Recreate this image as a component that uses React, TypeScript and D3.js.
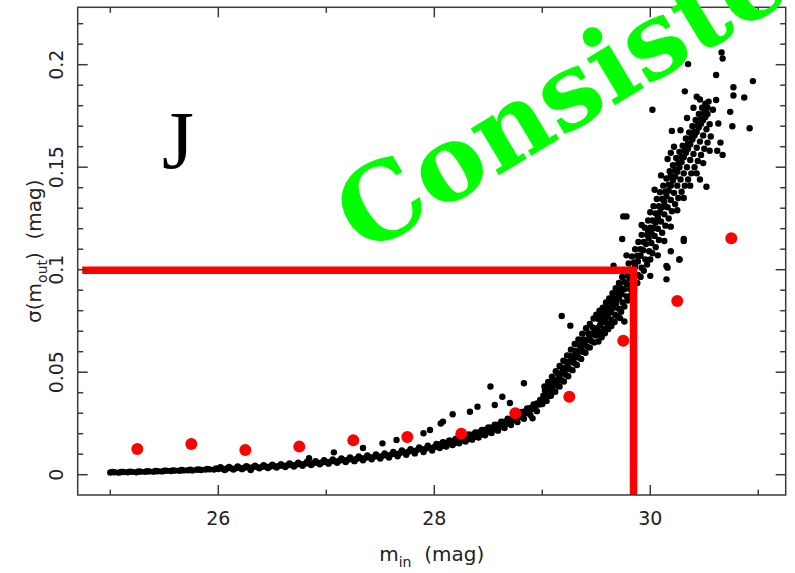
import React from "react";
import * as d3 from "d3";

// ---------- data ----------
const binMags = [25.25, 25.75, 26.25, 26.75, 27.25, 27.75, 28.25, 28.75, 29.25, 29.75, 30.25, 30.75];
const binSigma = [0.0125, 0.015, 0.0121, 0.0137, 0.0168, 0.0184, 0.02, 0.03, 0.038, 0.0654, 0.0847, 0.1153];

const xTicksMajor = [26, 28, 30];
const xTicksMinor = [25, 27, 29, 31];
const yTicksMajor = [0, 0.05, 0.1, 0.15, 0.2];
const yTickLabels = ["0", "0.05", "0.1", "0.15", "0.2"];
const yTicksMinor = [0.01, 0.02, 0.03, 0.04, 0.06, 0.07, 0.08, 0.09, 0.11, 0.12, 0.13, 0.14, 0.16, 0.17, 0.18, 0.19, 0.21, 0.22];

const limitMag = 29.845;
const limitSigma = 0.0997;

// bright end: tight band 25-28
const bandBright: [number, number][] = [
  [25.0, .0011], [25.04, .0012], [25.08, .0010], [25.12, .0013], [25.16, .0012], [25.2, .0014], [25.24, .0012], [25.28, .0015],
  [25.32, .0014], [25.36, .0016], [25.4, .0015], [25.44, .0017], [25.48, .0016], [25.52, .0019], [25.56, .0018], [25.6, .0020],
  [25.64, .0019], [25.68, .0021], [25.72, .0022], [25.76, .0021], [25.8, .0024], [25.84, .0023], [25.88, .0025], [25.92, .0026],
  [25.96, .0025], [26.0, .0028],
  [25.02, .0013], [25.1, .0014], [25.18, .0015], [25.26, .0016], [25.34, .0017], [25.42, .0018], [25.5, .0020], [25.58, .0021],
  [25.66, .0023], [25.74, .0024], [25.82, .0026], [25.9, .0028], [25.98, .0030],
  [26.04, .0029], [26.08, .0030], [26.12, .0031], [26.16, .0031], [26.2, .0033], [26.24, .0034], [26.28, .0035], [26.32, .0036],
  [26.36, .0037], [26.4, .0038], [26.44, .0039], [26.48, .0040], [26.52, .0041], [26.56, .0043], [26.6, .0044], [26.64, .0046],
  [26.68, .0047], [26.72, .0049], [26.76, .0051], [26.8, .0053], [26.84, .0055], [26.88, .0056], [26.92, .0058], [26.96, .0060],
  [27.0, .0062], [27.04, .0064], [27.08, .0066], [27.12, .0068], [27.16, .0071], [27.2, .0073], [27.24, .0075], [27.28, .0077],
  [27.32, .0080], [27.36, .0082], [27.4, .0085], [27.44, .0087], [27.48, .0089], [27.52, .0092], [27.56, .0095], [27.6, .0098],
  [27.64, .0101], [27.68, .0105], [27.72, .0109], [27.76, .0112], [27.8, .0116], [27.84, .0120], [27.88, .0124], [27.92, .0127],
  [27.96, .0131], [28.0, .0135],
  [26.02, .0036], [26.1, .0038], [26.18, .0040], [26.26, .0042], [26.34, .0044], [26.42, .0046], [26.5, .0049], [26.58, .0051],
  [26.66, .0055], [26.74, .0058], [26.82, .0062], [26.9, .0066], [26.98, .0071], [27.06, .0075], [27.14, .0079], [27.22, .0084],
  [27.3, .0089], [27.38, .0094], [27.46, .0099], [27.54, .0104], [27.62, .0111], [27.7, .0118], [27.78, .0125], [27.86, .0133], [27.94, .0141],
  [26.06, .0023], [26.14, .0025], [26.22, .0027], [26.3, .0029], [26.38, .0031], [26.46, .0033], [26.54, .0035], [26.62, .0037],
  [26.7, .0040], [26.78, .0044], [26.86, .0047], [26.94, .0051], [27.02, .0054], [27.1, .0058], [27.18, .0062], [27.26, .0066],
  [27.34, .0070], [27.42, .0075], [27.5, .0079], [27.58, .0084], [27.66, .0090], [27.74, .0097], [27.82, .0104], [27.9, .0111], [27.98, .0118],
];

// 28-29.5
const bandMid: [number, number][] = [
  [28.03, .0139], [28.06, .0143], [28.09, .0147], [28.12, .0151], [28.15, .0156], [28.18, .0160], [28.21, .0164], [28.24, .0169],
  [28.27, .0174], [28.3, .0179], [28.33, .0184], [28.36, .0189], [28.39, .0194], [28.42, .0200], [28.45, .0206], [28.48, .0212],
  [28.51, .0218], [28.54, .0224], [28.57, .0231], [28.6, .0238], [28.63, .0245], [28.66, .0252], [28.69, .0259], [28.72, .0266],
  [28.75, .0274], [28.78, .0283], [28.81, .0292], [28.84, .0301], [28.87, .0311], [28.9, .0321], [28.93, .0331], [28.96, .0342], [28.99, .0354],
  [28.02, .0150], [28.08, .0158], [28.14, .0167], [28.2, .0176], [28.26, .0185], [28.32, .0196], [28.38, .0206], [28.44, .0218],
  [28.5, .0231], [28.56, .0244], [28.62, .0259], [28.68, .0273], [28.74, .0290], [28.8, .0305], [28.86, .0323], [28.92, .0343], [28.98, .0365],
  [28.05, .0130], [28.11, .0137], [28.17, .0145], [28.23, .0153], [28.29, .0162], [28.35, .0171], [28.41, .0181], [28.47, .0192],
  [28.53, .0203], [28.59, .0215], [28.65, .0228], [28.71, .0242], [28.77, .0257], [28.83, .0273], [28.89, .0291], [28.95, .0310],
  [28.05, .0147], [28.11, .0156], [28.17, .0165], [28.23, .0174], [28.29, .0184], [28.35, .0195], [28.41, .0206], [28.47, .0218],
  [28.53, .0230], [28.59, .0244], [28.65, .0258], [28.71, .0273], [28.77, .0289], [28.83, .0307], [28.89, .0326], [28.95, .0347],
  [28.08, .0141], [28.14, .0149], [28.2, .0157], [28.26, .0166], [28.32, .0175], [28.38, .0185], [28.44, .0196], [28.5, .0208],
  [28.56, .0221], [28.62, .0235], [28.68, .0250], [28.74, .0266], [28.8, .0283], [28.86, .0302], [28.92, .0322], [28.98, .0344],
  [29.01, .0385], [29.035, .0400], [29.06, .0412], [29.085, .0430], [29.11, .0445], [29.135, .0462], [29.16, .0478], [29.185, .0500],
  [29.21, .0515], [29.235, .0530], [29.26, .0552], [29.285, .0568], [29.31, .0585], [29.335, .0600], [29.36, .0620], [29.385, .0638],
  [29.41, .0655], [29.435, .0668], [29.46, .0685], [29.485, .0700],
  [29.02, .0430], [29.055, .0452], [29.09, .0478], [29.125, .0505], [29.16, .0530], [29.195, .0556], [29.23, .0582], [29.265, .0610],
  [29.3, .0638], [29.335, .0660], [29.37, .0688], [29.405, .0715], [29.44, .0735], [29.475, .0762],
  [29.0, .0345], [29.04, .0360], [29.08, .0385], [29.12, .0405], [29.16, .0430], [29.2, .0455], [29.24, .0480], [29.28, .0510],
  [29.32, .0535], [29.36, .0565], [29.4, .0595], [29.44, .0620], [29.48, .0645],
  [29.025, .0412], [29.065, .0440], [29.105, .0465], [29.145, .0493], [29.185, .0522], [29.225, .0550], [29.265, .0578],
  [29.305, .0605], [29.345, .0632], [29.385, .0660], [29.425, .0690], [29.465, .0718],
  [29.015, .0365], [29.055, .0385], [29.095, .0410], [29.135, .0435], [29.175, .0460], [29.215, .0488], [29.255, .0515],
  [29.295, .0545], [29.335, .0572], [29.375, .0600], [29.415, .0625], [29.455, .0652], [29.495, .0680],
];

// 29.5-30.6
const bandFaint: [number, number][] = [
  [29.51, .0715], [29.535, .0730], [29.56, .0745], [29.585, .0762], [29.61, .0778], [29.635, .0795], [29.66, .0815], [29.685, .0838],
  [29.71, .0860], [29.735, .0880], [29.76, .0905], [29.785, .0930], [29.81, .0958], [29.835, .0985], [29.86, .1015], [29.885, .1040],
  [29.91, .1068], [29.935, .1095], [29.96, .1125], [29.985, .1155],
  [29.5, .0780], [29.53, .0800], [29.56, .0815], [29.59, .0840], [29.62, .0860], [29.65, .0885], [29.68, .0910], [29.71, .0935],
  [29.74, .0965], [29.77, .0995], [29.8, .1030], [29.83, .1065], [29.86, .1100], [29.89, .1135], [29.92, .1170], [29.95, .1205], [29.98, .1240],
  [29.52, .0650], [29.55, .0670], [29.58, .0690], [29.61, .0710], [29.64, .0725], [29.67, .0745], [29.7, .0770], [29.73, .0795],
  [29.76, .0820], [29.79, .0850], [29.82, .0875], [29.85, .0905], [29.88, .0935], [29.91, .0965], [29.94, .0995], [29.97, .1025], [30.0, .1050],
  [29.52, .0760], [29.55, .0775], [29.58, .0795], [29.61, .0815], [29.64, .0835], [29.67, .0860], [29.7, .0885], [29.73, .0910],
  [29.76, .0940], [29.79, .0970], [29.82, .1000], [29.85, .1035], [29.88, .1068], [29.91, .1100], [29.94, .1135], [29.97, .1170], [30.0, .1205],
  [29.5, .0680], [29.535, .0695], [29.57, .0712], [29.605, .0735], [29.64, .0755], [29.675, .0780], [29.71, .0810], [29.745, .0840],
  [29.78, .0870], [29.815, .0905], [29.85, .0940], [29.885, .0975], [29.92, .1010], [29.955, .1050], [29.99, .1090],
  [30.01, .1180], [30.03, .1205], [30.05, .1230], [30.07, .1255], [30.09, .1280], [30.11, .1305], [30.13, .1330], [30.15, .1358],
  [30.17, .1385], [30.19, .1410], [30.21, .1435], [30.23, .1455], [30.25, .1478], [30.27, .1500], [30.29, .1525], [30.31, .1548],
  [30.33, .1570], [30.35, .1590], [30.37, .1612], [30.39, .1635], [30.41, .1655], [30.43, .1672], [30.45, .1695], [30.47, .1712],
  [30.49, .1730], [30.51, .1745], [30.53, .1760],
  [30.0, .1280], [30.03, .1310], [30.06, .1345], [30.09, .1378], [30.12, .1410], [30.15, .1445], [30.18, .1480], [30.21, .1510],
  [30.24, .1545], [30.27, .1575], [30.3, .1605], [30.33, .1640], [30.36, .1670], [30.39, .1700], [30.42, .1730], [30.45, .1760],
  [30.48, .1790], [30.51, .1810], [30.54, .1820],
  [30.02, .1080], [30.05, .1110], [30.08, .1145], [30.11, .1180], [30.14, .1215], [30.17, .1250], [30.2, .1285], [30.23, .1320],
  [30.26, .1350], [30.29, .1380], [30.32, .1410], [30.35, .1440], [30.38, .1470], [30.41, .1500], [30.44, .1530], [30.47, .1560],
  [30.5, .1590], [30.53, .1620], [30.56, .1650],
  [30.02, .1240], [30.05, .1275], [30.08, .1310], [30.11, .1345], [30.14, .1380], [30.17, .1415], [30.2, .1450], [30.23, .1485],
  [30.26, .1520], [30.29, .1550], [30.32, .1580], [30.35, .1615], [30.38, .1645], [30.41, .1675], [30.44, .1705], [30.47, .1735],
  [30.5, .1765], [30.53, .1790],
  [30.01, .1130], [30.04, .1165], [30.07, .1200], [30.1, .1235], [30.13, .1270], [30.16, .1305], [30.19, .1340], [30.22, .1375],
  [30.25, .1410], [30.28, .1440], [30.31, .1470], [30.34, .1500], [30.37, .1535], [30.4, .1565], [30.43, .1595], [30.46, .1625],
  [30.49, .1655], [30.52, .1685], [30.55, .1710],
  [30.04, .1390], [30.1, .1460], [30.16, .1540], [30.22, .1600], [30.28, .1680], [30.34, .1740], [30.4, .1790], [30.46, .1830],
  [30.07, .1070], [30.13, .1140], [30.19, .1210], [30.25, .1290], [30.31, .1350], [30.37, .1410], [30.43, .1470], [30.49, .1520], [30.55, .1580],
];

const outliers: [number, number][] = [
  [26.3, .0023], [26.84, .0080], [27.07, .0109], [27.34, .0130], [27.52, .0153], [27.65, .0169], [27.9, .0202], [27.96, .0218],
  [28.06, .0250], [28.08, .0259], [28.17, .0295], [28.33, .0307], [28.4, .0332], [28.52, .0430], [28.63, .0380], [28.91, .0275],
  [28.83, .0446], [28.56, .0340], [28.7, .0350],
  [29.18, .0774], [29.26, .0727], [29.72, .0764], [29.76, .0747], [29.66, .1020], [29.78, .1070], [29.74, .1150], [29.78, .1260],
  [29.92, .1218], [29.98, .1185], [29.75, .1260], [30.0, .0970], [30.15, .0953], [30.15, .1018], [30.27, .1050], [30.31, .1150],
  [30.19, .1090], [30.16, .1010], [30.31, .1140], [30.27, .1050],
  [30.19, .1570], [30.19, .1460], [30.02, .1780], [30.2, .1677], [30.32, .1870], [30.43, .1844], [30.61, .1828], [30.35, .2003],
  [30.66, .2060], [30.67, .2030], [30.61, .1950], [30.95, .1920], [30.77, .1890], [30.77, .1850], [30.87, .1840], [30.74, .1770],
  [30.76, .1700], [30.92, .1690], [30.65, .1620], [30.67, .1560], [30.62, .1580], [30.52, .1405], [30.46, .1440], [30.63, .1713],
  [30.58, .1780],
];

// ---------- layout ----------
const W = 795;
const H = 573;
const L = 77.7, R = 785.7, T = 7.3, B = 495;

export default function App() {
  const x = d3.scaleLinear().domain([24.698, 31.254]).range([L, R]);
  const y = d3.scaleLinear().domain([-0.0099, 0.228]).range([B, T]);
  const axisColor = "#3a3a3a";
  const labelFont = "'DejaVu Sans', sans-serif";
  const stars = [...bandBright, ...bandMid, ...bandFaint, ...outliers];
  const limitPath = d3.line()([
    [x(24.74), y(limitSigma)],
    [x(limitMag), y(limitSigma)],
    [x(limitMag), B],
  ]) as string;

  return (
    <svg width={W} height={H} viewBox={`0 0 ${W} ${H}`} style={{ position: "absolute", left: 0, top: 0, background: "#fff" }}>
      <rect x={0} y={0} width={W} height={H} fill="#fff" />
      {/* points */}
      <g fill="#000">
        {stars.map((d, i) => (
          <circle key={i} cx={x(d[0])} cy={y(d[1])} r={3.2} />
        ))}
      </g>
      <g fill="#ff0000">
        {binMags.map((m, i) => (
          <circle key={i} cx={x(m)} cy={y(binSigma[i])} r={6} />
        ))}
      </g>
      <path d={limitPath} fill="none" stroke="#ff0000" strokeWidth={7.5} strokeLinejoin="miter" />

      {/* frame & ticks */}
      <g stroke={axisColor} strokeWidth={1.5} fill="none">
        <rect x={L} y={T} width={R - L} height={B - T} />
        {xTicksMajor.map((t) => (
          <g key={"xM" + t}>
            <line x1={x(t)} x2={x(t)} y1={B} y2={B - 10} />
            <line x1={x(t)} x2={x(t)} y1={T} y2={T + 10} />
          </g>
        ))}
        {xTicksMinor.map((t) => (
          <g key={"xm" + t}>
            <line x1={x(t)} x2={x(t)} y1={B} y2={B - 5.5} />
            <line x1={x(t)} x2={x(t)} y1={T} y2={T + 5.5} />
          </g>
        ))}
        {yTicksMajor.map((t) => (
          <g key={"yM" + t}>
            <line x1={L} x2={L + 10} y1={y(t)} y2={y(t)} />
            <line x1={R} x2={R - 10} y1={y(t)} y2={y(t)} />
          </g>
        ))}
        {yTicksMinor.map((t) => (
          <g key={"ym" + t}>
            <line x1={L} x2={L + 5.5} y1={y(t)} y2={y(t)} />
            <line x1={R} x2={R - 5.5} y1={y(t)} y2={y(t)} />
          </g>
        ))}
      </g>

      {/* tick labels */}
      <g fontFamily={labelFont} fontSize={19} fill="#222">
        {xTicksMajor.map((t) => (
          <text key={"xl" + t} x={x(t)} y={525} textAnchor="middle">{t}</text>
        ))}
        {yTicksMajor.map((t, i) => (
          <text key={"yl" + t} transform={`translate(${63},${y(t)}) rotate(-90)`} textAnchor="middle">{yTickLabels[i]}</text>
        ))}
      </g>

      {/* axis titles */}
      <g fontFamily={labelFont} fontSize={20} fill="#222">
        <text x={(L + R) / 2} y={561} textAnchor="middle">
          m<tspan fontSize={14} dy={6}>in</tspan><tspan dy={-6}>{"\u00a0\u00a0(mag)"}</tspan>
        </text>
        <text transform={`translate(${41},${(T + B) / 2}) rotate(-90)`} textAnchor="middle">
          σ(m<tspan fontSize={14} dy={6}>out</tspan><tspan dy={-6}>{")\u00a0\u00a0(mag)"}</tspan>
        </text>
      </g>

      {/* band label */}
      <text x={162} y={168} fontFamily="'Liberation Serif', serif" fontSize={82} fill="#000">J</text>

      {/* watermark */}
      <text
        transform={`translate(${364},${256}) rotate(-31)`}
        fontFamily="'DejaVu Serif', serif"
        fontWeight="bold"
        fontSize={105}
        fill="#00ff00"
      >
        Consistent
      </text>
    </svg>
  );
}
